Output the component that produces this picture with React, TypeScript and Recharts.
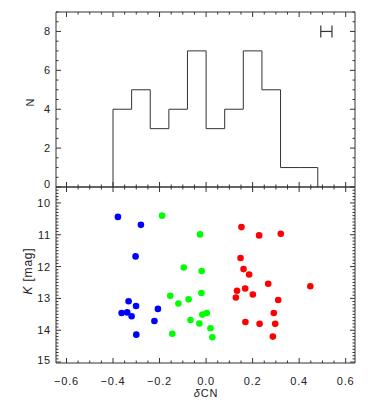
import { ComposedChart, Line, Scatter, XAxis, YAxis, ErrorBar } from "recharts"

// histogram of delta CN (bin edges and counts)
const binEdges = [-0.4, -0.32, -0.24, -0.16, -0.08, 0, 0.08, 0.16, 0.24, 0.32, 0.4, 0.48]
const binCounts = [4, 5, 3, 4, 7, 3, 4, 7, 5, 1, 1]

// typical error bar shown top right
const errX = 0.517
const errN = 8
const errHalf = 0.024

// stars: delta CN vs K, split in three groups
const blueCN = [-0.379, -0.28, -0.303, -0.333, -0.301, -0.363, -0.339, -0.32, -0.207, -0.222, -0.3]
const blueK = [10.44, 10.69, 11.68, 13.09, 13.24, 13.46, 13.44, 13.56, 13.33, 13.71, 14.14]
const greenCN = [-0.189, -0.026, -0.096, -0.019, -0.154, -0.02, -0.119, -0.075, -0.067, -0.016, 0.003, -0.029, -0.145, 0.019, 0.027]
const greenK = [10.4, 10.99, 12.03, 12.14, 12.92, 12.83, 13.16, 13.03, 13.68, 13.51, 13.46, 13.79, 14.11, 13.94, 14.22]
const redCN = [0.152, 0.228, 0.321, 0.148, 0.161, 0.185, 0.267, 0.448, 0.133, 0.168, 0.128, 0.201, 0.31, 0.291, 0.169, 0.23, 0.297, 0.287]
const redK = [10.76, 11.02, 10.97, 11.73, 12.08, 12.25, 12.54, 12.62, 12.76, 12.69, 12.97, 12.88, 13.05, 13.46, 13.74, 13.8, 13.8, 14.2]

// axis ticks
const xMajor = [-0.6, -0.4, -0.2, 0, 0.2, 0.4, 0.6]
const nMajor = [0, 2, 4, 6, 8]
const kMajor = [10, 11, 12, 13, 14, 15]

const X_DOMAIN: [number, number] = [-0.645, 0.64]
const N_DOMAIN: [number, number] = [0, 9]
const K_DOMAIN: [number, number] = [9.5, 15.03]

const INK = "#333"
const FONT = "'Liberation Sans', Arial, sans-serif"

// minor tick positions
const steps = (a: number, b: number, s: number) => {
  const out: number[] = []
  for (let v = a; v <= b + 1e-9; v += s) out.push(Math.round(v * 1000) / 1000)
  return out
}
const xMinor = steps(-0.6, 0.6, 0.05)
const nMinor = steps(0, 9, 0.5)
const kMinor = steps(9.6, 15, 0.1)

const fmtX = (v: number) => (v < 0 ? "\u2212" : "") + Math.abs(v).toFixed(1)
const fmtInt = (v: number) => String(v)

// ticks drawn inward, like IDL plots
function inTick(
  side: "bottom" | "top" | "left" | "right",
  majors: number[],
  fmt?: (v: number) => string,
  lift: (v: number) => number = () => 0
) {
  return (props: any) => {
    const { x, y, payload } = props
    const v = payload.value
    const isMajor = majors.some((m) => Math.abs(m - v) < 1e-6)
    const len = isMajor ? 5 : 2.5
    let ln = { x1: x, x2: x, y1: y, y2: y }
    if (side === "bottom") ln = { x1: x, x2: x, y1: y, y2: y - len }
    if (side === "top") ln = { x1: x, x2: x, y1: y, y2: y + len }
    if (side === "left") ln = { x1: x, x2: x + len, y1: y, y2: y }
    if (side === "right") ln = { x1: x, x2: x - len, y1: y, y2: y }
    return (
      <g>
        <line {...ln} stroke={INK} strokeWidth={1} />
        {fmt && isMajor && side === "bottom" && (
          <text x={x} y={y + 22} textAnchor="middle" fontSize={11} letterSpacing={0.8} fill="#222" fontFamily={FONT}>
            {fmt(v)}
          </text>
        )}
        {fmt && isMajor && side === "left" && (
          <text x={x - 5} y={y + 4 - lift(v)} textAnchor="end" fontSize={11} letterSpacing={0.8} fill="#222" fontFamily={FONT}>
            {fmt(v)}
          </text>
        )}
      </g>
    )
  }
}

const axisCommon = {
  type: "number" as const,
  allowDataOverflow: true,
  interval: 0 as const,
  tickSize: 0,
  tickMargin: 0,
  axisLine: { stroke: INK, strokeWidth: 1 },
  tickLine: false,
}

const dot = (color: string) => (p: any) => <circle cx={p.cx} cy={p.cy} r={3.3} fill={color} />

export default function App() {
  // step outline of the histogram, dropping to zero at both ends
  const histData = [
    { x: binEdges[0], n: 0 },
    ...binCounts.map((c, i) => ({ x: binEdges[i], n: c })),
    { x: binEdges[binEdges.length - 1], n: 0 },
  ]
  const errData = [{ x: errX, n: errN, err: errHalf }]

  const blue = blueCN.map((x, i) => ({ x, k: blueK[i] }))
  const green = greenCN.map((x, i) => ({ x, k: greenK[i] }))
  const red = redCN.map((x, i) => ({ x, k: redK[i] }))

  const labelStyle: React.CSSProperties = {
    position: "absolute",
    fontFamily: FONT,
    fontSize: 11,
    letterSpacing: 0.8,
    color: "#222",
    whiteSpace: "nowrap",
    lineHeight: "12px",
  }

  return (
    <div style={{ position: "absolute", left: 0, top: 0, width: 374, height: 418, background: "#fff" }}>
      <div style={{ position: "absolute", left: 0, top: 0 }}>
        <ComposedChart width={374} height={196} data={histData} margin={{ top: 11, right: 18, bottom: 8, left: 55 }}>
          <XAxis {...axisCommon} xAxisId="b" orientation="bottom" dataKey="x" domain={X_DOMAIN} height={1}
            ticks={xMinor} tick={inTick("bottom", xMajor)} />
          <XAxis {...axisCommon} xAxisId="t" orientation="top" dataKey="x" domain={X_DOMAIN} height={1}
            ticks={xMinor} tick={inTick("top", xMajor)} />
          <YAxis {...axisCommon} yAxisId="l" orientation="left" dataKey="n" domain={N_DOMAIN} width={1}
            ticks={nMinor} tick={inTick("left", nMajor, fmtInt, (v) => (v === 0 ? 3 : 0))} />
          <YAxis {...axisCommon} yAxisId="r" orientation="right" dataKey="n" domain={N_DOMAIN} width={1}
            ticks={nMinor} tick={inTick("right", nMajor)} />
          <Line xAxisId="b" yAxisId="l" type="stepAfter" dataKey="n" stroke={INK} strokeWidth={1}
            dot={false} isAnimationActive={false} />
          <Scatter xAxisId="b" yAxisId="l" data={errData} dataKey="n" shape={() => <g />} isAnimationActive={false}>
            <ErrorBar dataKey="err" direction="x" width={6} stroke={INK} strokeWidth={1.2} />
          </Scatter>
        </ComposedChart>
      </div>

      <div style={{ position: "absolute", left: 0, top: 186 }}>
        <ComposedChart width={374} height={232} margin={{ top: 0, right: 18, bottom: 54, left: 55 }}>
          <XAxis {...axisCommon} xAxisId="b" orientation="bottom" dataKey="x" domain={X_DOMAIN} height={1}
            ticks={xMinor} tick={inTick("bottom", xMajor, fmtX)} />
          <XAxis {...axisCommon} xAxisId="t" orientation="top" dataKey="x" domain={X_DOMAIN} height={1}
            ticks={xMinor} tick={inTick("top", xMajor)} />
          <YAxis {...axisCommon} yAxisId="l" orientation="left" dataKey="k" domain={K_DOMAIN} reversed width={1}
            ticks={kMinor} tick={inTick("left", kMajor, fmtInt, (v) => (v === 15 ? 2 : 0))} />
          <YAxis {...axisCommon} yAxisId="r" orientation="right" dataKey="k" domain={K_DOMAIN} reversed width={1}
            ticks={kMinor} tick={inTick("right", kMajor)} />
          <Scatter xAxisId="b" yAxisId="l" data={blue} dataKey="k" shape={dot("#0000ff")} isAnimationActive={false} />
          <Scatter xAxisId="b" yAxisId="l" data={green} dataKey="k" shape={dot("#00ff00")} isAnimationActive={false} />
          <Scatter xAxisId="b" yAxisId="l" data={red} dataKey="k" shape={dot("#ff0000")} isAnimationActive={false} />
        </ComposedChart>
      </div>

      <div style={{ ...labelStyle, left: 30, top: 102, transform: "translate(-50%, -50%) rotate(-90deg)" }}>N</div>
      <div style={{ ...labelStyle, left: 28, top: 271, fontSize: 12, transform: "translate(-50%, -50%) rotate(-90deg)" }}>
        <i>K</i> [mag]
      </div>
      <div style={{ ...labelStyle, left: 206, top: 393, transform: "translate(-50%, -50%)" }}>
        <i>δ</i>CN
      </div>
    </div>
  )
}
